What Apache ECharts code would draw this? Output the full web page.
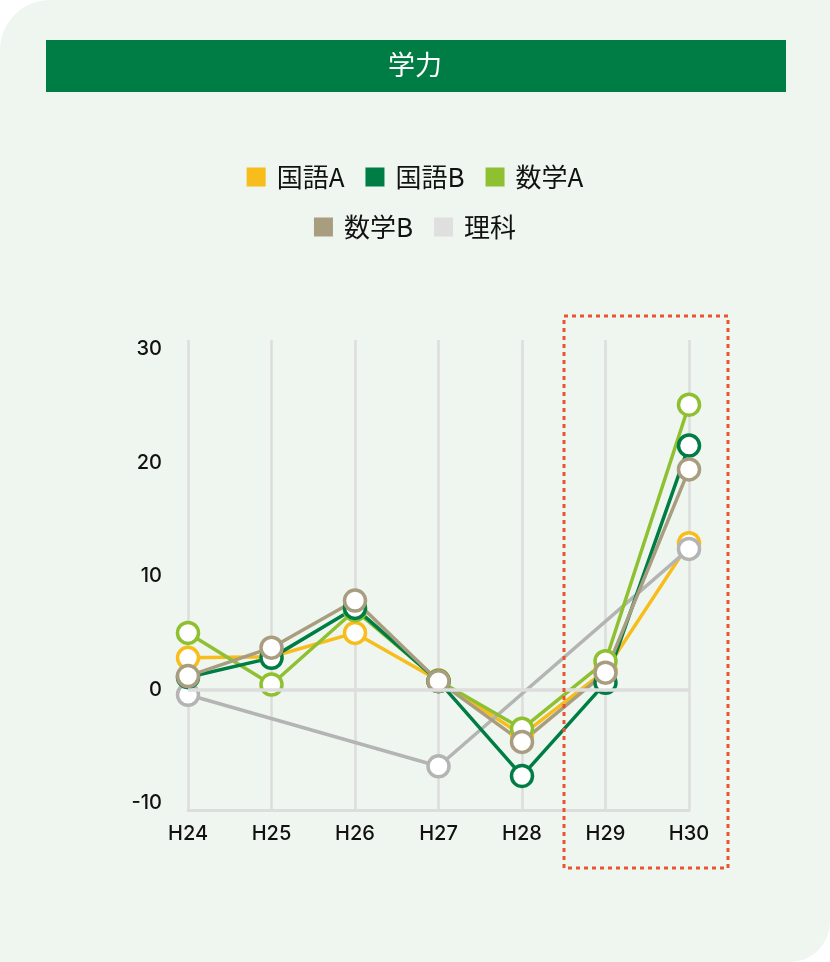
<!DOCTYPE html>
<html lang="ja">
<head>
<meta charset="utf-8">
<title>学力</title>
<script src="https://cdn.jsdelivr.net/npm/echarts@6.0.0/dist/echarts.min.js"></script>
<style>
    html, body { margin: 0; padding: 0; background: #ffffff; }
    #card {
        position: absolute; left: 0; top: 0; width: 830px; height: 962px;
        background: #EFF6EF;
        border-radius: 50px 0 40px 0;
    }
    #chart { position: absolute; left: 0; top: 0; width: 830px; height: 962px; }
</style>
</head>
<body>
<div id="card"></div>
<div id="chart"></div>
<script>
// 年度
const categories = ['H24', 'H25', 'H26', 'H27', 'H28', 'H29', 'H30'];

// 各教科の値
const kokugoA = [2.8, 2.9, 5.0, 0.8, -4.0, 1.7, 12.9];
const kokugoB = [1.1, 2.8, 7.2, 0.75, -7.6, 0.6, 21.5];
const sugakuA = [5.0, 0.45, 7.0, 0.8, -3.45, 2.5, 25.1];
const sugakuB = [1.2, 3.7, 7.85, 0.75, -4.6, 1.5, 19.4];
const rika = [-0.45, null, null, -6.75, null, null, 12.4];

// 縦軸の目盛り
const yTickLabels = [-10, 0, 10, 20, 30];

const COLORS = {
    kokugoA: '#F7BD1B',
    kokugoB: '#007D45',
    sugakuA: '#8FC031',
    sugakuB: '#A99D80',
    rika: '#B4B4B4',
    rikaLegend: '#DFDFDF'
};

const chart = echarts.init(document.getElementById('chart'), null, { renderer: 'canvas' });

function lineSeries(name, data, color, extra) {
    return Object.assign({
        name: name,
        type: 'line',
        data: data,
        symbol: 'circle',
        symbolSize: 21,
        showAllSymbol: true,
        lineStyle: { color: color, width: 3.5 },
        itemStyle: { color: '#ffffff', borderColor: color, borderWidth: 3.5 },
        emphasis: { disabled: true }
    }, extra || {});
}

const legendBase = {
    left: 'center',
    icon: 'rect',
    itemWidth: 19,
    itemHeight: 19,
    itemGap: 21,
    padding: 0,
    selectedMode: false,
    itemStyle: { borderWidth: 0 },
    lineStyle: { width: 0 },
    textStyle: {
        color: '#111111',
        fontSize: 26,
        padding: [0, 0, 0, 6],
        fontFamily: '"Noto Sans CJK JP", "Noto Sans", sans-serif'
    }
};

const option = {
    backgroundColor: 'transparent',
    animation: false,
    title: {
        text: '学力',
        left: 'center',
        top: 51,
        padding: 0,
        textStyle: {
            color: '#ffffff',
            fontSize: 27,
            fontWeight: 'normal',
            fontFamily: '"Noto Sans CJK JP", sans-serif'
        }
    },
    legend: [
        Object.assign({}, legendBase, {
            top: 164,
            data: [
                { name: '国語A', itemStyle: { color: COLORS.kokugoA } },
                { name: '国語B', itemStyle: { color: COLORS.kokugoB } },
                { name: '数学A', itemStyle: { color: COLORS.sugakuA } }
            ]
        }),
        Object.assign({}, legendBase, {
            top: 214,
            data: [
                { name: '数学B', itemStyle: { color: COLORS.sugakuB } },
                { name: '理科', itemStyle: { color: COLORS.rikaLegend } }
            ]
        })
    ],
    grid: {
        left: 188,
        right: 141,
        top: 340,
        bottom: 152,
        containLabel: false
    },
    xAxis: {
        type: 'category',
        data: categories,
        boundaryGap: false,
        axisLine: { show: true, onZero: false, lineStyle: { color: '#DDDDDD', width: 3 } },
        axisTick: { show: false },
        splitLine: { show: true, lineStyle: { color: '#DDDDDD', width: 2.5 } },
        axisLabel: {
            color: '#111111',
            fontSize: 20,
            fontWeight: 500,
            margin: 14,
            fontFamily: 'Inter, "Noto Sans", sans-serif'
        }
    },
    yAxis: {
        type: 'value',
        min: -10.6,
        max: 30.8,
        axisLine: { show: false },
        axisTick: { show: false },
        splitLine: { show: false },
        axisLabel: {
            customValues: yTickLabels,
            color: '#111111',
            fontSize: 20,
            fontWeight: 500,
            margin: 26,
            fontFamily: 'Inter, "Noto Sans", sans-serif'
        }
    },
    graphic: [
        {
            type: 'rect',
            z: 0,
            shape: { x: 46, y: 40, width: 740, height: 52 },
            style: { fill: '#007D45' },
            silent: true
        },
        {
            type: 'rect',
            z: 10,
            shape: { x: 564, y: 316, width: 164, height: 552 },
            style: { fill: 'none', stroke: '#E9542F', lineWidth: 3, lineDash: [4, 4] },
            silent: true
        }
    ],
    series: [
        lineSeries('国語A', kokugoA, COLORS.kokugoA, {
            markLine: {
                silent: true,
                symbol: 'none',
                label: { show: false },
                lineStyle: { color: '#DDDDDD', width: 3.5, type: 'solid' },
                data: [{ yAxis: 0 }]
            }
        }),
        lineSeries('理科', rika, COLORS.rika, { connectNulls: true }),
        lineSeries('数学A', sugakuA, COLORS.sugakuA),
        lineSeries('国語B', kokugoB, COLORS.kokugoB),
        lineSeries('数学B', sugakuB, COLORS.sugakuB)
    ]
};

chart.setOption(option);
window.addEventListener('resize', () => chart.resize());
</script>
</body>
</html>
